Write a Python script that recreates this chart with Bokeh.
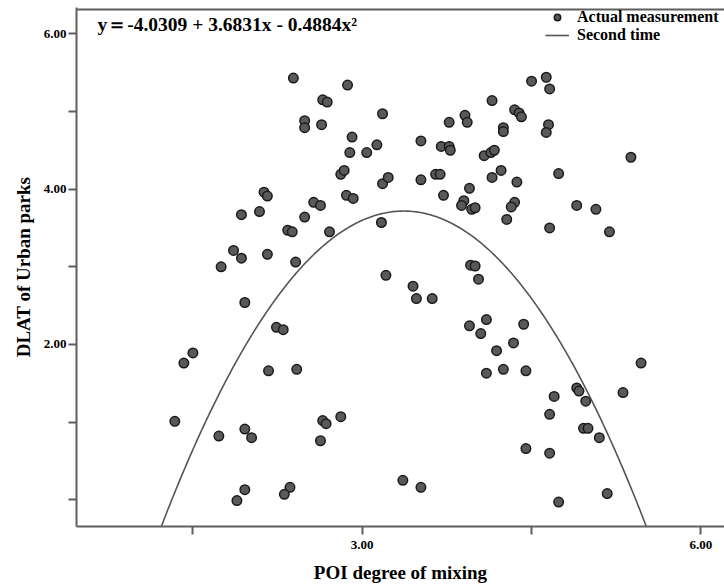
from bokeh.plotting import figure
from bokeh.models import FixedTicker, CustomJSTickFormatter, Label, Range1d
from bokeh.embed import file_html
from bokeh.resources import INLINE
import numpy as np

# POI degree of mixing (x) and DLAT of Urban parks (y)
poi_mixing = [
    2.39, 2.65, 2.69, 2.49, 2.49, 2.64, 2.13, 2.16, 1.93, 2.09,
    2.57, 2.63, 2.49, 2.34, 2.38, 2.71, 1.86, 1.93, 2.16, 2.41,
    1.75, 1.96, 2.24, 2.30, 1.50, 1.42, 2.17, 2.42, 1.34, 1.73,
    1.96, 2.02, 2.65, 2.68, 2.81, 2.63, 1.96, 1.89, 2.36, 2.31,
    2.87, 3.18, 2.91, 2.89, 3.04, 3.13, 3.52, 3.70, 3.77, 3.78,
    3.77, 3.91, 3.93, 4.15, 4.08, 4.14, 4.17, 2.81, 2.84, 3.18,
    3.23, 3.52, 3.65, 3.69, 4.15, 4.23, 2.86, 2.92, 3.95, 3.72,
    3.90, 3.88, 3.97, 4.00, 3.17, 3.96, 4.00, 4.03, 3.21, 3.45,
    3.48, 3.62,
    4.50, 4.63, 4.66, 4.35, 4.39, 4.41, 4.25, 4.25, 4.65, 4.63,
    5.38, 4.37, 4.74, 4.35, 4.32, 4.28, 4.90, 5.07, 4.66, 5.19,
    3.95, 4.10, 4.05, 4.43, 4.19, 4.34, 4.10, 4.25, 4.45, 5.47,
    4.90, 4.92, 4.70, 5.31, 4.98, 3.36, 3.52, 4.66, 4.96, 5.00,
    5.10, 4.45, 4.66, 5.17, 4.74,
]
dlat = [
    5.43, 5.15, 5.12, 4.88, 4.79, 4.83, 3.96, 3.91, 3.67, 3.71,
    3.83, 3.79, 3.64, 3.47, 3.45, 3.45, 3.21, 3.11, 3.16, 3.06,
    3.00, 2.54, 2.22, 2.19, 1.89, 1.76, 1.66, 1.68, 1.01, 0.82,
    0.91, 0.80, 1.02, 0.98, 1.07, 0.76, 0.13, -0.01, 0.16, 0.07,
    5.34, 4.97, 4.67, 4.47, 4.47, 4.57, 4.62, 4.55, 4.55, 4.50,
    4.86, 4.95, 4.86, 5.14, 4.43, 4.47, 4.50, 4.19, 4.24, 4.07,
    4.15, 4.12, 4.19, 4.19, 4.15, 4.24, 3.92, 3.88, 4.01, 3.92,
    3.85, 3.79, 3.74, 3.76, 3.57, 3.02, 3.01, 2.84, 2.89, 2.75,
    2.59, 2.59,
    5.39, 5.44, 5.29, 5.02, 4.98, 4.93, 4.79, 4.74, 4.83, 4.73,
    4.41, 4.09, 4.20, 3.83, 3.77, 3.61, 3.79, 3.74, 3.50, 3.45,
    2.24, 2.32, 2.14, 2.26, 1.92, 2.02, 1.63, 1.68, 1.66, 1.76,
    1.44, 1.40, 1.33, 1.38, 1.27, 0.25, 0.16, 1.10, 0.92, 0.92,
    0.80, 0.66, 0.60, 0.08, -0.03,
]

# quadratic curve as drawn in the picture (b0 + b1*x + b2*x^2)
curve_coef = [-6.266, 5.928, -0.88]
curve_x_span = [1.0, 5.8]
equation_text = "y\uff1d-4.0309 + 3.6831x - 0.4884x\u00b2"

x_ticks = [1.5, 3.0, 4.5, 6.0]
y_ticks = [0, 1, 2, 3, 4, 5, 6]

series_names = ["Actual measurement", "Second time"]

AXIS_COLOR = "#5e5e5e"
SERIF = "Liberation Serif"
X_LO, X_HI = 0.469, 6.209
Y_LO, Y_HI = -0.344, 6.338

p = figure(width=724, height=585, output_backend="svg", toolbar_location=None,
           x_range=Range1d(X_LO, X_HI), y_range=Range1d(Y_LO, Y_HI),
           min_border_left=76, min_border_right=0, min_border_top=7,
           min_border_bottom=59)
p.grid.visible = False
p.outline_line_color = None
p.background_fill_color = "white"
p.border_fill_color = "white"

cx = np.linspace(curve_x_span[0], curve_x_span[1], 400)
cy = curve_coef[0] + curve_coef[1] * cx + curve_coef[2] * cx ** 2

# top frame line along the upper edge of the plotting area
p.line([X_LO, X_HI], [Y_HI - 0.025, Y_HI - 0.025], line_color=AXIS_COLOR,
       line_width=2)

p.scatter(poi_mixing, dlat, size=9.5, fill_color="#595959", line_color="#1a1a1a",
          line_width=1.5, legend_label=series_names[0])
p.line(cx, cy, line_color="#555555", line_width=1.6, legend_label=series_names[1])

bottom_axis = p.below[0]
left_axis = p.left[0]
bottom_axis.ticker = FixedTicker(ticks=x_ticks)
left_axis.ticker = FixedTicker(ticks=y_ticks)
bottom_axis.formatter = CustomJSTickFormatter(
    code="return (Math.abs(tick % 3) < 1e-9) ? tick.toFixed(2) : '';")
left_axis.formatter = CustomJSTickFormatter(
    code="return (tick > 0 && Math.abs(tick % 2) < 1e-9) ? tick.toFixed(2) : '';")

for ax in (bottom_axis, left_axis):
    ax.axis_line_color = AXIS_COLOR
    ax.axis_line_width = 2
    ax.major_tick_line_color = AXIS_COLOR
    ax.major_tick_line_width = 2
    ax.major_tick_out = 8
    ax.major_tick_in = 0
    ax.minor_tick_line_color = None
    ax.major_label_text_font = SERIF
    ax.major_label_text_font_style = "bold"
    ax.major_label_text_font_size = "13px"
    ax.major_label_text_color = "black"
    ax.axis_label_text_font = SERIF
    ax.axis_label_text_font_style = "bold"
    ax.axis_label_text_font_size = "19px"
    ax.axis_label_text_color = "black"

bottom_axis.axis_label = "POI degree of mixing"
left_axis.axis_label = "DLAT of Urban parks"
bottom_axis.major_label_standoff = 6
bottom_axis.axis_label_standoff = 10
left_axis.major_label_standoff = 2
left_axis.axis_label_standoff = 7

p.add_layout(Label(x=21, y=502, x_units="screen", y_units="screen",
                   text=equation_text, text_font=SERIF, text_font_style="bold",
                   text_font_size="19.5px", text_color="black",
                   text_baseline="middle"))

lg = p.legend[0]
lg.location = (469, 482)
lg.border_line_color = None
lg.background_fill_alpha = 0
lg.padding = 0
lg.margin = 0
lg.spacing = 0
lg.glyph_width = 24
lg.glyph_height = 16
lg.label_height = 16
lg.label_standoff = 8
lg.label_text_font = SERIF
lg.label_text_font_style = "bold"
lg.label_text_font_size = "16px"
lg.label_text_color = "black"

open("out.html", "w").write(file_html(p, INLINE))
